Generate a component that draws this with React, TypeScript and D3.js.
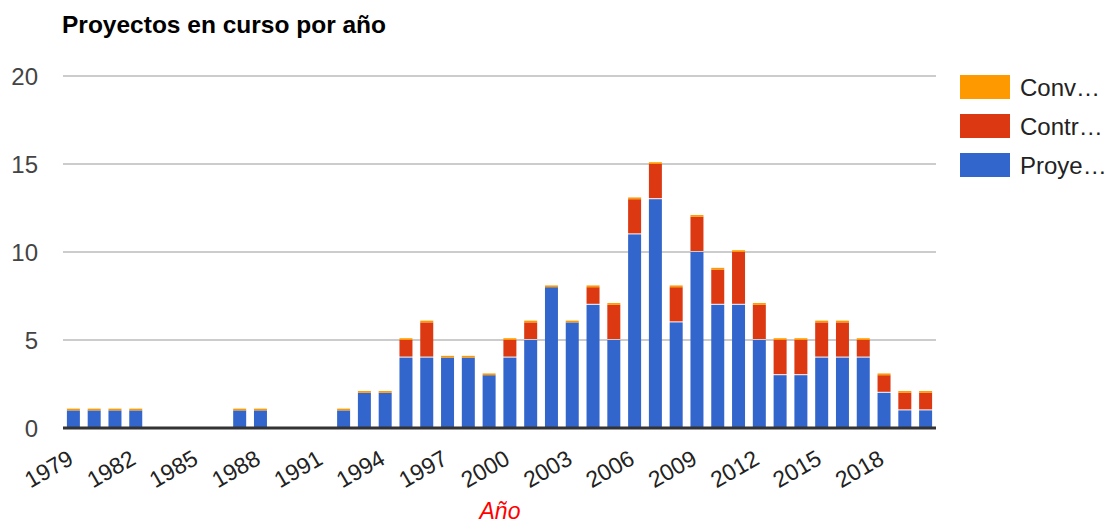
import React from 'react';
import * as d3 from 'd3';

const years = [
  1979, 1980, 1981, 1982, 1983, 1984, 1985, 1986, 1987, 1988, 1989, 1990, 1991, 1992,
  1993, 1994, 1995, 1996, 1997, 1998, 1999, 2000, 2001, 2002, 2003, 2004, 2005, 2006,
  2007, 2008, 2009, 2010, 2011, 2012, 2013, 2014, 2015, 2016, 2017, 2018, 2019, 2020,
];

// Proyectos (blue)
const proyectos = [
  1, 1, 1, 1, 0, 0, 0, 0, 1, 1, 0, 0, 0, 1,
  2, 2, 4, 4, 4, 4, 3, 4, 5, 8, 6, 7, 5, 11,
  13, 6, 10, 7, 7, 5, 3, 3, 4, 4, 4, 2, 1, 1,
];

// Contratos (red)
const contratos = [
  0, 0, 0, 0, 0, 0, 0, 0, 0, 0, 0, 0, 0, 0,
  0, 0, 1, 2, 0, 0, 0, 1, 1, 0, 0, 1, 2, 2,
  2, 2, 2, 2, 3, 2, 2, 2, 2, 2, 1, 1, 1, 1,
];

// Convenios (orange) - tiny caps on top of each bar
const convenios = [
  0.1, 0.1, 0.1, 0.1, 0, 0, 0, 0, 0.1, 0.1, 0, 0, 0, 0.1,
  0.1, 0.1, 0.1, 0.1, 0.1, 0.1, 0.1, 0.1, 0.1, 0.1, 0.1, 0.1, 0.1, 0.1,
  0.1, 0.1, 0.1, 0.1, 0.1, 0.1, 0.1, 0.1, 0.1, 0.1, 0.1, 0.1, 0.1, 0.1,
];

const xTickYears = [1979, 1982, 1985, 1988, 1991, 1994, 1997, 2000, 2003, 2006, 2009, 2012, 2015, 2018];
const yTicks = [0, 5, 10, 15, 20];
const legendLabels = ['Conv…', 'Contr…', 'Proye…'];
const legendColors = ['#ff9900', '#dc3912', '#3366cc'];

const W = 1109;
const H = 526;
const FONT = '"Liberation Sans", Arial, sans-serif';

export default function App() {
  const x = d3
    .scaleBand<number>()
    .domain(years)
    .range([63, 936])
    .paddingInner(0.375)
    .paddingOuter(0.1875);

  const y = d3.scaleLinear().domain([0, 20]).range([428, 76]);

  const rows = years.map((yr, i) => ({
    yr,
    p: proyectos[i],
    c: contratos[i],
    v: convenios[i],
  }));

  return (
    <svg
      width={W}
      height={H}
      style={{ position: 'absolute', left: 0, top: 0, background: '#fff' }}
      fontFamily={FONT}
    >
      <text x={62} y={33} fontSize={24.5} fontWeight="bold" fill="#000">
        Proyectos en curso por año
      </text>

      {/* gridlines */}
      {yTicks.slice(1).map((t) => (
        <line key={t} x1={63} x2={936} y1={y(t)} y2={y(t)} stroke="#cccccc" strokeWidth={2} />
      ))}

      {/* y labels */}
      {yTicks.map((t) => (
        <text key={t} x={38} y={y(t)} dy="0.36em" textAnchor="end" fontSize={24} fill="#444">
          {t}
        </text>
      ))}

      {/* bars */}
      {rows.map((d) => {
        const bx = x(d.yr)!;
        const bw = x.bandwidth();
        const parts = [];
        if (d.p > 0) {
          parts.push(
            <rect key="p" x={bx} width={bw} y={y(d.p)} height={y(0) - y(d.p)} fill="#3366cc" />
          );
        }
        if (d.c > 0) {
          const top = y(d.p + d.c);
          const bottom = y(d.p) - 1;
          parts.push(<rect key="c" x={bx} width={bw} y={top} height={bottom - top} fill="#dc3912" />);
        }
        if (d.v > 0) {
          const base = d.p + d.c;
          parts.push(
            <rect key="v" x={bx} width={bw} y={y(base + d.v)} height={y(base) - y(base + d.v)} fill="#ff9900" />
          );
        }
        return <g key={d.yr}>{parts}</g>;
      })}

      {/* baseline */}
      <line x1={63} x2={936} y1={y(0)} y2={y(0)} stroke="#333" strokeWidth={3} />

      {/* x labels */}
      {xTickYears.map((yr) => (
        <text
          key={yr}
          transform={`translate(${x(yr)! + x.bandwidth() / 2 + 1.5},463) rotate(-30)`}
          textAnchor="end"
          fontSize={23}
          fill="#222"
        >
          {yr}
        </text>
      ))}

      <text x={500} y={519} textAnchor="middle" fontSize={23} fontStyle="italic" fill="#ff0000">
        Año
      </text>

      {/* legend */}
      {legendLabels.map((lab, i) => (
        <g key={lab} transform={`translate(960,${75 + i * 39})`}>
          <rect width={50} height={24} fill={legendColors[i]} />
          <text x={60} y={12} dy="0.36em" fontSize={24} fill="#222">
            {lab}
          </text>
        </g>
      ))}
    </svg>
  );
}
